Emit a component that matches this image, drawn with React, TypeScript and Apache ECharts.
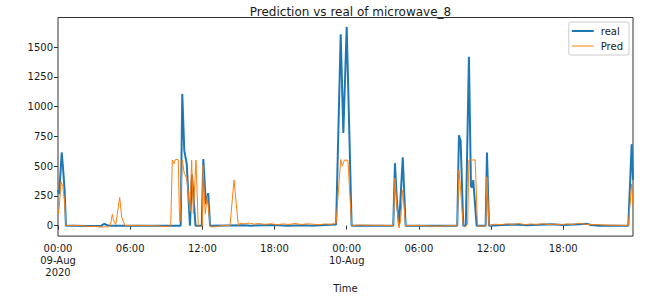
import React, { useEffect, useRef } from "react";
import * as echarts from "echarts";

const titleText = "Prediction vs real of microwave_8";
const seriesNames = ["real", "Pred"];
const xTickHours = [0, 6, 12, 18, 24, 30, 36, 42];
const xTickLabels = ["00:00\n09-Aug\n2020", "06:00", "12:00", "18:00", "00:00\n10-Aug", "06:00", "12:00", "18:00"];
const yTicks = [0, 250, 500, 750, 1000, 1250, 1500];

// hours since 2020-08-09 00:00
const realHours = [0, 0.1, 0.31, 0.42, 0.55, 0.66, 1.5, 2.5, 3.6, 3.85, 4.1, 4.3, 10.2, 10.33, 10.5, 10.7, 10.97, 11.14, 11.43, 11.95, 12.08, 12.3, 12.49, 12.64, 15.5, 16, 18, 19, 20.5, 21, 23.12, 23.5, 23.72, 24.0, 24.41, 27.87, 28.01, 28.18, 28.35, 28.66, 28.9, 33.19, 33.33, 33.47, 33.69, 33.9, 34.16, 34.33, 34.45, 34.52, 34.8, 35.55, 35.66, 35.83, 37, 38, 39, 40, 41, 42, 43, 44, 44.3, 45, 47.41, 47.69, 47.8];
const realValues = [300, 265, 615, 480, 300, 0, 0, -3, 0, 15, 3, 0, 0, 1107, 630, 520, 0, 430, 0, 0, 560, 180, 273, 0, 3, 0, 5, 0, 4, 0, 10, 1609, 779, 1670, 0, 0, 525, 200, 0, 574, 0, 0, 760, 713, 0, 0, 1420, 330, 320, 382, 0, 0, 615, 0, 5, 10, 3, 8, 12, 5, 10, 15, 5, 0, 0, 683, 385];

const predHours = [0, 0.1, 0.25, 0.4, 0.55, 0.66, 1.2, 2, 2.6, 3.0, 3.5, 4.2, 4.35, 4.52, 4.63, 4.8, 5.13, 5.3, 5.57, 6.5, 8, 9.0, 9.3, 9.37, 9.5, 9.64, 9.75, 10.0, 10.08, 10.14, 10.33, 10.5, 10.7, 10.85, 10.97, 11.11, 11.25, 11.47, 11.66, 11.8, 12.0, 12.05, 12.24, 12.41, 12.64, 12.8, 13.2, 13.6, 14.3, 14.63, 14.99, 15.12, 15.5, 15.9, 16.3, 16.7, 17.2, 17.7, 18.2, 18.7, 19.2, 19.7, 20.2, 20.7, 21.2, 21.7, 22.2, 22.7, 23.12, 23.5, 23.63, 23.8, 24.1, 24.41, 25, 26, 27, 27.87, 28.01, 28.18, 28.35, 28.48, 28.66, 28.9, 30, 31.5, 32.5, 33.19, 33.33, 33.47, 33.69, 33.8, 34.05, 34.16, 34.68, 34.87, 35.2, 35.55, 35.66, 35.83, 36.3, 36.8, 37.3, 37.8, 38.3, 38.8, 39.3, 39.8, 40.3, 40.8, 41.3, 41.8, 42.3, 42.8, 43.3, 43.8, 44.3, 44.8, 45.5, 46.5, 47.41, 47.69, 47.8];
const predValues = [95, 150, 370, 330, 200, 0, 2, 0, -8, -5, -12, -10, 0, 96, 40, 10, 237, 68, 0, 2, 0, -8, -5, 0, 552, 520, 555, 555, 150, 30, 550, 437, 400, 250, 120, 550, 100, 550, 0, -10, 0, 508, 100, 250, 0, -12, -8, 0, 0, 383, 0, 20, 15, 22, 12, 18, 10, 16, 8, 14, 10, 18, 9, 15, 12, 8, 14, 10, 20, 557, 502, 550, 550, 0, 5, 3, 2, 0, 400, 150, -20, 50, 300, 0, 2, -5, 0, 0, 470, 300, 0, -10, 10, 552, 552, 0, -5, 0, 410, 0, 12, 8, 15, 10, 18, 8, 14, 10, 16, 9, 12, 8, 14, 10, 20, 12, 8, 10, 5, 3, 0, 350, 170];

const FONT = "DejaVu Sans";

export default function App() {
  const ref = useRef<HTMLDivElement>(null);
  useEffect(() => {
    if (!ref.current) return;
    const chart = echarts.init(ref.current, undefined, { renderer: "svg" });
    const real = realHours.map((h, i) => [h, realValues[i]]);
    const pred = predHours.map((h, i) => [h, predValues[i]]);
    chart.setOption({
      animation: false,
      textStyle: { fontFamily: FONT },
      title: {
        text: titleText,
        left: 345.5,
        textAlign: "center",
        top: 1,
        textStyle: { fontFamily: FONT, fontSize: 12, fontWeight: "normal", color: "#1a1a1a" },
      },
      legend: {
        orient: "vertical",
        right: 27,
        top: 22,
        padding: [4, 6, 4, 3],
        itemWidth: 22,
        itemHeight: 10,
        itemGap: 5,
        backgroundColor: "rgba(255,255,255,0.8)",
        borderColor: "#cccccc",
        borderWidth: 1,
        borderRadius: 2,
        textStyle: { fontFamily: FONT, fontSize: 10, color: "#1a1a1a", padding: [0, 0, 0, 2] },
        data: [
          { name: seriesNames[0], icon: "path://M0 0H22V2H0Z" },
          { name: seriesNames[1], icon: "path://M0 0H22V1H0Z" },
        ],
      },
      grid: {
        left: 58,
        right: 23,
        top: 17.5,
        bottom: 57.3,
        show: true,
        borderColor: "#333",
        borderWidth: 1,
        backgroundColor: "transparent",
      },
      xAxis: {
        type: "value",
        min: 0,
        max: 47.8,
        interval: 6,
        name: "Time",
        nameLocation: "middle",
        nameGap: 44,
        nameTextStyle: { fontFamily: FONT, fontSize: 10, color: "#1a1a1a" },
        axisLine: { show: false },
        splitLine: { show: false },
        axisTick: { show: true, length: 4, customValues: xTickHours, lineStyle: { color: "#333" } },
        axisLabel: {
          customValues: xTickHours,
          margin: 6,
          fontFamily: FONT,
          fontSize: 10,
          lineHeight: 12,
          color: "#1a1a1a",
          formatter: (v: number) => {
            const i = xTickHours.indexOf(Math.round(v));
            return i >= 0 ? xTickLabels[i] : "";
          },
        },
      },
      yAxis: {
        type: "value",
        min: -88,
        max: 1749,
        axisLine: { show: false },
        splitLine: { show: false },
        axisTick: { show: true, length: 4, customValues: yTicks, lineStyle: { color: "#333" } },
        axisLabel: {
          customValues: yTicks,
          margin: 5,
          fontFamily: FONT,
          fontSize: 10,
          color: "#1a1a1a",
          formatter: (v: number) => String(Math.round(v)),
        },
      },
      series: [
        {
          name: seriesNames[0],
          type: "line",
          data: real,
          showSymbol: false,
          symbol: "none",
          lineStyle: { color: "#1f77b4", width: 2 },
          itemStyle: { color: "#1f77b4" },
        },
        {
          name: seriesNames[1],
          type: "line",
          data: pred,
          showSymbol: false,
          symbol: "none",
          lineStyle: { color: "#ff7f0e", width: 1 },
          itemStyle: { color: "#ff7f0e" },
        },
      ],
    });
    return () => chart.dispose();
  }, []);
  return <div ref={ref} style={{ width: 656, height: 298, position: "absolute", left: 0, top: 0 }} />;
}
